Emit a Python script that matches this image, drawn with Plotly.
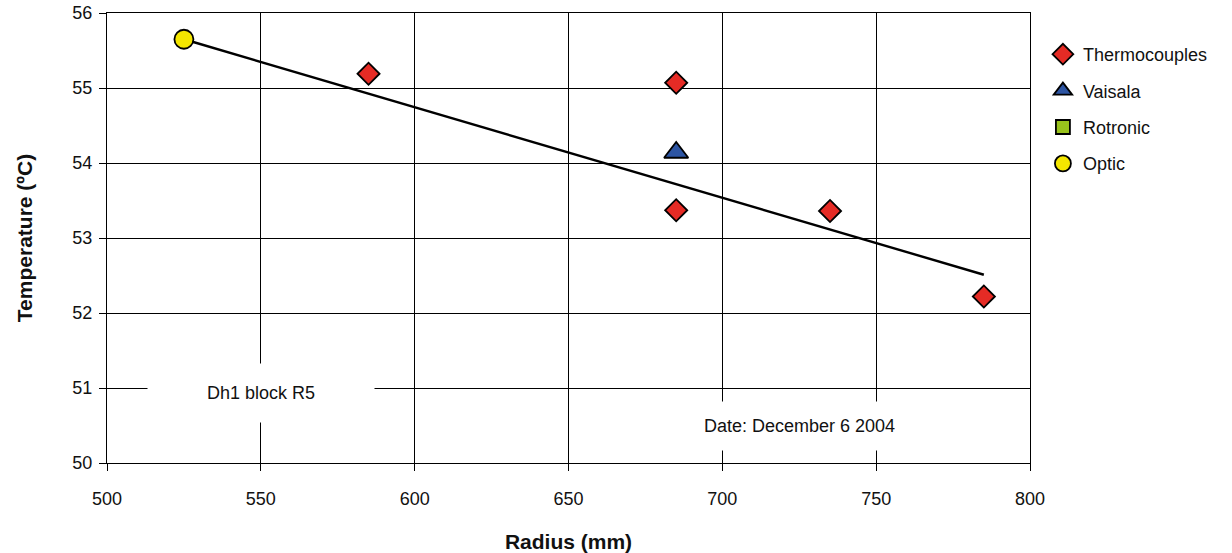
import plotly.graph_objects as go

# Data
thermo_x = [585, 685, 685, 735, 785]
thermo_y = [55.19, 55.07, 53.37, 53.36, 52.22]
vaisala_x = [685]
vaisala_y = [54.14]
rotronic_x = [None]
rotronic_y = [None]
optic_x = [525]
optic_y = [55.65]
trend_x = [525, 785]
trend_y = [55.65, 52.51]

x_ticks = [500, 550, 600, 650, 700, 750, 800]
y_ticks = [50, 51, 52, 53, 54, 55, 56]

FONT = "Liberation Sans, Arial, sans-serif"

fig = go.Figure()

fig.add_trace(go.Scatter(x=trend_x, y=trend_y, mode="lines",
                         line=dict(color="black", width=2.4),
                         showlegend=False, hoverinfo="skip"))

fig.add_trace(go.Scatter(x=thermo_x, y=thermo_y, mode="markers", name="Thermocouples",
                         legendgroup="a",
                         marker=dict(symbol="diamond", size=17, color="#E52B25",
                                     line=dict(color="black", width=1.8))))
fig.add_trace(go.Scatter(x=vaisala_x, y=vaisala_y, mode="markers", name="Vaisala",
                         legendgroup="b",
                         marker=dict(symbol="triangle-up", size=21, color="#2D55A3",
                                     line=dict(color="black", width=1.8))))
fig.add_trace(go.Scatter(x=rotronic_x, y=rotronic_y, mode="markers", name="Rotronic",
                         legendgroup="c",
                         marker=dict(symbol="square", size=14, color="#99C21C",
                                     line=dict(color="black", width=1.8))))
fig.add_trace(go.Scatter(x=optic_x, y=optic_y, mode="markers", name="Optic",
                         legendgroup="d",
                         marker=dict(symbol="circle", size=19, color="#F4E600",
                                     line=dict(color="black", width=1.8))))

fig.add_annotation(x=550, y=50.93, xref="x", yref="y", text="Dh1 block R5",
                   showarrow=False, bgcolor="white", width=226, height=58, borderpad=0,
                   font=dict(family=FONT, size=18, color="#111"))
fig.add_annotation(x=725, y=50.487, xref="x", yref="y", text="Date: December 6 2004",
                   showarrow=False, bgcolor="white", width=215, height=48, borderpad=0,
                   font=dict(family=FONT, size=18, color="#111"))

fig.update_layout(
    width=1232, height=553,
    margin=dict(l=107, r=202, t=13, b=90),
    paper_bgcolor="white", plot_bgcolor="white",
    font=dict(family=FONT, size=18, color="#111"),
    showlegend=True,
    legend=dict(x=1.014, y=1.0 - (36 - 13) / 450, xanchor="left", yanchor="top",
                font=dict(family=FONT, size=18, color="#111"),
                tracegroupgap=10, bgcolor="rgba(0,0,0,0)"),
    xaxis=dict(range=[500, 800], tickvals=x_ticks, showgrid=True, gridcolor="black",
               gridwidth=1, showline=True, linecolor="black", linewidth=1, mirror=True,
               ticks="outside", ticklen=7, tickcolor="black", zeroline=False,
               tickfont=dict(size=18), ticklabelstandoff=12, automargin=False,
               title=dict(text="<b>Radius (mm)</b>", font=dict(size=21), standoff=30)),
    yaxis=dict(range=[50, 56], tickvals=y_ticks, showgrid=True, gridcolor="black",
               gridwidth=1, showline=True, linecolor="black", linewidth=1, mirror=True,
               ticks="outside", ticklen=7, tickcolor="black", zeroline=False,
               tickfont=dict(size=18), ticklabelstandoff=3, automargin=False,
               title=dict(text="<b>Temperature (ºC)</b>", font=dict(size=21), standoff=34)),
)

fig.write_html("out.html")
